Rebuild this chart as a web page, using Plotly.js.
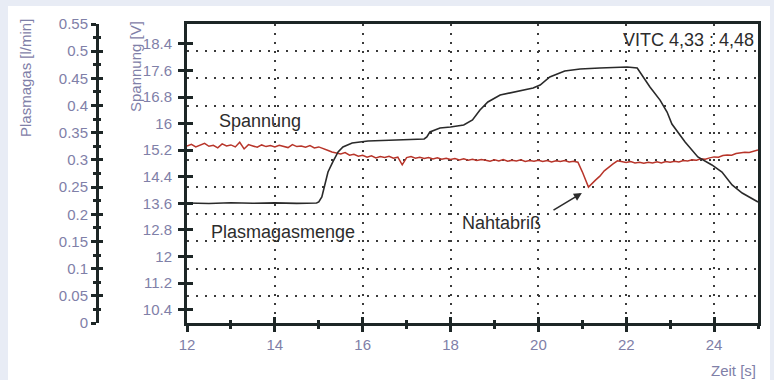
<!DOCTYPE html>
<html>
<head>
<meta charset="utf-8">
<script src="https://cdn.plot.ly/plotly-3.0.1.min.js"></script>
<style>html,body{margin:0;padding:0;background:#e8ecf5;}#chart{width:774px;height:380px;}</style>
</head>
<body>
<div id="chart"></div>
<script>
// Spannung (red trace), time in s, voltage in V
const spannungZeit = [12.0,12.1,12.2,12.3,12.4,12.5,12.6,12.7,12.8,12.9,
  13.0,13.1,13.2,13.3,13.4,13.5,13.6,13.7,13.8,13.9,
  14.0,14.1,14.2,14.3,14.4,14.5,14.6,14.7,14.8,14.9,
  15.0,15.1,15.2,15.3,15.4,15.5,15.6,15.7,15.8,15.9,
  16.0,16.1,16.2,16.3,16.4,16.5,16.6,16.7,16.8,16.9,
  17.0,17.1,17.2,17.3,17.4,17.5,17.6,17.7,17.8,17.9,
  18.0,18.1,18.2,18.3,18.4,18.5,18.6,18.7,18.8,18.9,
  19.0,19.1,19.2,19.3,19.4,19.5,19.6,19.7,19.8,19.9,
  20.0,20.1,20.2,20.3,20.4,20.5,20.6,20.7,20.8,20.9,
  21.0,21.1,21.14,21.3,21.4,21.5,21.6,21.7,21.8,21.9,
  22.0,22.1,22.2,22.3,22.4,22.5,22.6,22.7,22.8,22.9,
  23.0,23.1,23.2,23.3,23.4,23.5,23.6,23.7,23.8,23.9,
  24.0,24.1,24.2,24.3,24.4,24.5,24.6,24.7,24.8,24.9,25.0];
const spannungWerte = [15.33,15.38,15.30,15.36,15.41,15.32,15.35,15.27,15.39,15.33,
  15.36,15.30,15.44,15.24,15.37,15.33,15.29,15.36,15.31,15.34,
  15.30,15.35,15.32,15.28,15.37,15.31,15.33,15.29,15.34,15.27,
  15.30,15.24,15.20,15.15,15.12,15.09,15.13,15.05,15.08,15.02,
  15.05,14.99,15.03,14.97,15.01,14.98,15.02,14.96,14.99,14.76,
  14.98,15.01,14.96,14.99,14.95,14.98,14.94,14.97,14.93,14.96,
  14.92,14.95,14.91,14.94,14.90,14.93,14.89,14.92,14.90,14.87,
  14.91,14.88,14.92,14.87,14.90,14.88,14.91,14.86,14.89,14.87,
  14.90,14.86,14.89,14.85,14.88,14.86,14.89,14.85,14.87,14.84,
  14.55,14.21,14.09,14.30,14.42,14.58,14.70,14.79,14.88,14.85,
  14.83,14.86,14.82,14.84,14.81,14.84,14.82,14.85,14.82,14.86,
  14.84,14.87,14.85,14.89,14.88,14.91,14.90,14.94,14.93,14.97,
  15.00,14.99,15.04,15.06,15.05,15.10,15.12,15.14,15.13,15.18,15.21];

// Plasmagasmenge (black trace), time in s, gas flow in l/min
const gasZeit = [12.0,12.5,13.0,13.5,14.0,14.5,14.95,15.0,15.07,15.14,
  15.21,15.32,15.44,15.55,15.76,16.12,16.44,16.8,17.15,17.40,
  17.46,17.53,17.76,18.0,18.3,18.5,18.67,18.85,19.13,19.58,
  19.88,20.04,20.26,20.6,20.95,21.4,22.02,22.25,22.38,22.54,
  22.77,22.93,23.04,23.34,23.63,23.95,24.18,24.41,24.64,25.0];
const gasWerte = [0.2208,0.2198,0.2212,0.2203,0.2210,0.2201,0.2208,0.2226,0.2318,0.2575,
  0.2778,0.2962,0.3146,0.3238,0.3311,0.3348,0.3357,0.3360,0.3366,0.3385,
  0.3422,0.3514,0.3587,0.3605,0.3642,0.3734,0.3918,0.4065,0.4194,0.4268,
  0.4323,0.4378,0.4525,0.4636,0.4673,0.4691,0.4709,0.4691,0.4525,0.4341,
  0.4100,0.3880,0.3660,0.3330,0.3054,0.2907,0.2778,0.2539,0.2391,0.2226];

// Tick labels
const zeitTicks = [12,14,16,18,20,22,24];
const zeitTickText = ['12','14','16','18','20','22','24'];
const spannungTicks = [10.4,11.2,12,12.8,13.6,14.4,15.2,16,16.8,17.6,18.4];
const spannungTickText = ['10.4','11.2','12','12.8','13.6','14.4','15.2','16','16.8','17.6','18.4'];
const gasTicks = [0,0.05,0.1,0.15,0.2,0.25,0.3,0.35,0.4,0.45,0.5,0.55];
const gasTickText = ['0','0.05','0.1','0.15','0.2','0.25','0.3','0.35','0.4','0.45','0.5','0.55'];

const dark = '#1d2626';
const tickColor = '#7f80a8';
const txtColor = '#2c2c2c';
const fontFam = '"Liberation Sans", Arial, sans-serif';
const xDom = [187/758, 1];
const gasPos = 97/758;

const traces = [
  {x: gasZeit, y: gasWerte, xaxis: 'x', yaxis: 'y2', mode: 'lines',
   line: {color: '#2a2a2a', width: 1.6}, hoverinfo: 'skip'},
  {x: spannungZeit, y: spannungWerte, xaxis: 'x', yaxis: 'y', mode: 'lines',
   line: {color: '#b8352a', width: 1.5}, hoverinfo: 'skip'},
  {x: [], y: [], xaxis: 'x2', yaxis: 'y', mode: 'lines'},
  {x: [], y: [], xaxis: 'x', yaxis: 'y3', mode: 'lines'},
  {x: [], y: [], xaxis: 'x', yaxis: 'y4', mode: 'lines'}
];

const grid = {showgrid: true, gridcolor: '#3a3a3a', gridwidth: 2, griddash: '2px,7px'};

const layout = {
  width: 774, height: 380,
  margin: {l: 0, r: 16, t: 24, b: 57, pad: 0},
  paper_bgcolor: '#e8ecf5', plot_bgcolor: '#ffffff',
  showlegend: false,
  font: {family: fontFam, size: 15, color: tickColor},
  xaxis: Object.assign({
    domain: xDom, range: [12, 25], anchor: 'y',
    tickmode: 'array', tickvals: zeitTicks, ticktext: zeitTickText,
    ticks: 'outside', ticklen: 6, tickwidth: 3, tickcolor: dark,
    minor: {tickmode: 'linear', tick0: 12, dtick: 1, ticks: 'outside', ticklen: 3, tickwidth: 3, tickcolor: dark, showgrid: false},
    showline: true, linecolor: dark, linewidth: 3, mirror: true, zeroline: false,
    tickfont: {size: 15, color: tickColor}, fixedrange: true
  }, grid),
  xaxis2: {
    overlaying: 'x', domain: xDom, range: [12, 25], anchor: 'y',
    tickmode: 'array', tickvals: zeitTicks,
    ticks: 'inside', ticklen: 6, tickwidth: 3, tickcolor: dark,
    minor: {tickmode: 'linear', tick0: 12, dtick: 1, ticks: 'inside', ticklen: 3, tickwidth: 3, tickcolor: dark, showgrid: false},
    showticklabels: false, showgrid: false, showline: false, zeroline: false, fixedrange: true
  },
  yaxis: {
    domain: [0, 1], range: [10, 19], anchor: 'x',
    tickmode: 'array', tickvals: spannungTicks, ticktext: spannungTickText,
    ticks: 'outside', ticklen: 6, tickwidth: 3, tickcolor: dark,
    showline: true, linecolor: dark, linewidth: 3, mirror: true, zeroline: false,
    showgrid: false, tickfont: {size: 15, color: tickColor}, ticklabelstandoff: 3, fixedrange: true
  },
  yaxis3: {
    overlaying: 'y', range: [10, 19], anchor: 'x', side: 'left',
    tickmode: 'array', tickvals: spannungTicks,
    ticks: 'inside', ticklen: 6, tickwidth: 3, tickcolor: dark,
    showticklabels: false, showgrid: false, showline: false, zeroline: false, fixedrange: true
  },
  yaxis2: Object.assign({
    overlaying: 'y', range: [0, 0.55], anchor: 'free', position: gasPos, side: 'left',
    tickmode: 'array', tickvals: gasTicks, ticktext: gasTickText,
    ticks: 'outside', ticklen: 5, tickwidth: 3, tickcolor: dark,
    minor: {tickmode: 'linear', tick0: 0, dtick: 0.025, ticks: 'outside', ticklen: 3, tickwidth: 3, tickcolor: dark, showgrid: false},
    showline: true, linecolor: dark, linewidth: 3, zeroline: false,
    tickfont: {size: 15, color: tickColor}, fixedrange: true
  }, grid),
  yaxis4: {
    overlaying: 'y', range: [0, 0.55], anchor: 'free', position: gasPos, side: 'left',
    tickmode: 'array', tickvals: gasTicks,
    ticks: 'inside', ticklen: 5, tickwidth: 3, tickcolor: dark,
    minor: {tickmode: 'linear', tick0: 0, dtick: 0.025, ticks: 'inside', ticklen: 3, tickwidth: 3, tickcolor: dark, showgrid: false},
    showticklabels: false, showgrid: false, showline: false, zeroline: false, fixedrange: true
  },
  shapes: [
    {type: 'rect', xref: 'paper', yref: 'paper', layer: 'below',
     x0: 8/758, x1: 770/758, y0: -0.3, y1: (323-6)/299,
     fillcolor: '#ffffff', line: {width: 0}}
  ],
  annotations: [
    {text: 'Plasmagas [l/min]', xref: 'paper', yref: 'paper', x: 25/758, y: (323-78)/299,
     textangle: -90, showarrow: false, xanchor: 'center', yanchor: 'middle',
     font: {family: fontFam, size: 15, color: tickColor}},
    {text: 'Spannung [V]', xref: 'paper', yref: 'paper', x: 135/758, y: (323-67)/299,
     textangle: -90, showarrow: false, xanchor: 'center', yanchor: 'middle',
     font: {family: fontFam, size: 15, color: tickColor}},
    {text: 'Zeit [s]', xref: 'paper', yref: 'paper', x: 1, y: (323-370)/299,
     showarrow: false, xanchor: 'right', yanchor: 'middle',
     font: {family: fontFam, size: 15, color: tickColor}},
    {text: 'Spannung', xref: 'x', yref: 'y', x: 12.68, y: 16.08, showarrow: false,
     xanchor: 'left', yanchor: 'middle', font: {family: fontFam, size: 18, color: txtColor}},
    {text: 'Plasmagasmenge', xref: 'x', yref: 'y', x: 12.5, y: 12.74, showarrow: false,
     xanchor: 'left', yanchor: 'middle', font: {family: fontFam, size: 18, color: txtColor}},
    {text: 'Nahtabriß', xref: 'x', yref: 'y', x: 18.22, y: 13.01, showarrow: false,
     xanchor: 'left', yanchor: 'middle', font: {family: fontFam, size: 18, color: txtColor}},
    {text: 'VITC 4,33 : 4,48', xref: 'x', yref: 'y', x: 21.88, y: 18.52, showarrow: false,
     xanchor: 'left', yanchor: 'middle', font: {family: fontFam, size: 18, color: txtColor}},
    {text: '', xref: 'x', yref: 'y', x: 20.99, y: 13.91, axref: 'x', ayref: 'y', ax: 20.31, ay: 13.37,
     showarrow: true, arrowhead: 2, arrowsize: 1, arrowwidth: 1.6, arrowcolor: '#2c2c2c', standoff: 0}
  ]
};

Plotly.newPlot('chart', traces, layout, {displayModeBar: false, staticPlot: true});
</script>
</body>
</html>
